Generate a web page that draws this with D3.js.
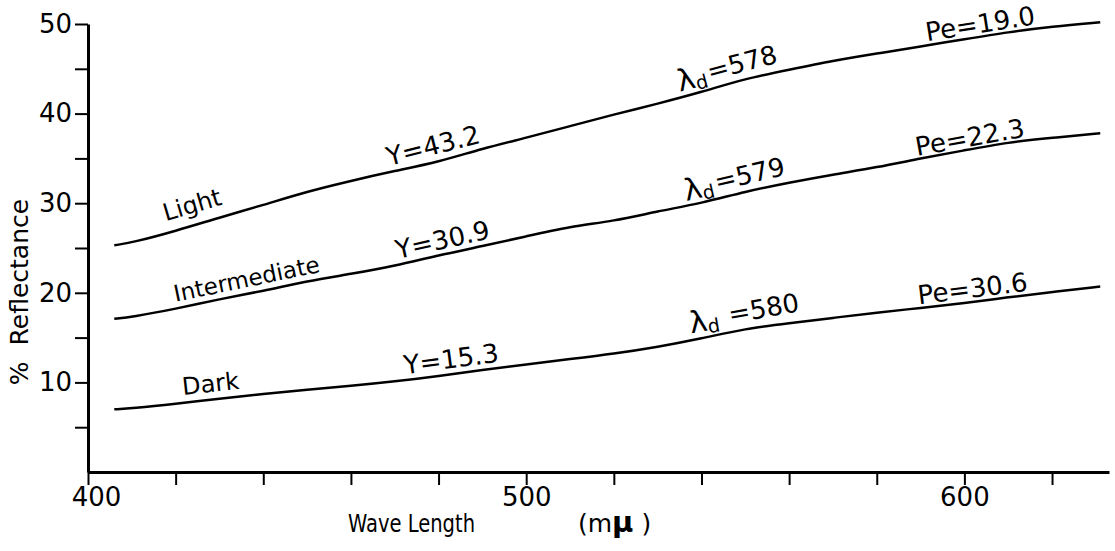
<!DOCTYPE html>
<html>
<head>
<meta charset="utf-8">
<script src="https://cdn.jsdelivr.net/npm/d3@7"></script>
<style>
  body { margin: 0; background: white; }
  text { font-family: "DejaVu Sans", sans-serif; fill: black; white-space: pre; }
</style>
</head>
<body>
<div id="graphique"></div>
<script>
// Valeurs (longueur d'onde en m\u03bc, reflectance en %)
const longueurs_onde = [406, 410, 420, 430, 440, 450, 460, 470, 480, 490, 500, 510,
                        520, 530, 540, 550, 560, 570, 580, 590, 600, 610, 620, 631];
const light        = [25.3, 25.6, 26.9, 28.4, 29.8, 31.3, 32.5, 33.6, 34.6, 36.1, 37.3, 38.6,
                      39.9, 41.1, 42.4, 43.9, 44.9, 45.9, 46.7, 47.5, 48.3, 49.1, 49.7, 50.2];
const intermediate = [17.1, 17.3, 18.2, 19.3, 20.2, 21.3, 22.1, 23.0, 24.2, 25.2, 26.3, 27.4,
                      28.0, 29.1, 30.0, 31.3, 32.3, 33.2, 34.0, 35.0, 35.9, 36.8, 37.3, 37.8];
const dark         = [7.0, 7.1, 7.6, 8.2, 8.7, 9.2, 9.6, 10.1, 10.7, 11.4, 12.0, 12.6,
                      13.2, 13.95, 14.9, 16.0, 16.6, 17.2, 17.8, 18.3, 18.85, 19.5, 20.1, 20.7];

const noms_courbes   = ["Light", "Intermediate", "Dark"];
const etiquettes_Y   = ["Y=43.2", "Y=30.9", "Y=15.3"];
const etiquettes_lambda = ["=578", "=579", " =580"];
const etiquettes_Pe  = ["Pe=19.0", "Pe=22.3", "Pe=30.6"];

const ticks_x  = [400, 420, 440, 460, 480, 500, 520, 540, 560, 580, 600, 620];
const labels_x = [400, 500, 600];
const ticks_y  = [5, 10, 15, 20, 25, 30, 35, 40, 45, 50];
const labels_y = [10, 20, 30, 40, 50];

const titre_x = "Wave Length";
const titre_y = "%  Reflectance";


const svg = d3.select("#graphique").append("svg")
    .attr("width", 1115)
    .attr("height", 551);

svg.append("rect")
    .attr("width", "100%")
    .attr("height", "100%")
    .attr("fill", "white");

const x = d3.scaleLinear().domain([400, 633]).range([88, 1109]);
const y = d3.scaleLinear().domain([0, 50]).range([472, 24]);


// Axe horizontal
const axeX = svg.append("g")
    .attr("transform", "translate(0," + y(0) + ")")
    .call(d3.axisBottom(x)
        .tickValues(ticks_x)
        .tickSize(13)
        .tickSizeOuter(0)
        .tickPadding(3)
        .tickFormat(d => labels_x.includes(d) ? d : ""));

// Axe vertical
const axeY = svg.append("g")
    .attr("transform", "translate(" + x(400) + ",0)")
    .call(d3.axisLeft(y)
        .tickValues(ticks_y)
        .tickSize(13)
        .tickSizeOuter(0)
        .tickPadding(3)
        .tickFormat(d => labels_y.includes(d) ? d : ""));

for (let axe of [axeX, axeY]) {
    axe.attr("font-family", null).attr("font-size", null);
    axe.select(".domain").attr("stroke", "black").attr("stroke-width", 3);
    axe.selectAll(".tick line").attr("stroke", "black").attr("stroke-width", 2);
    axe.selectAll(".tick text").attr("font-size", 26).attr("fill", "black");
}
// le "400" est un peu décalé à droite sur l'original
axeX.selectAll(".tick text").filter(d => d == 400).attr("dx", 8);


// Titres des axes
svg.append("text")
    .attr("x", 348).attr("y", 532)
    .attr("font-size", 25)
    .attr("textLength", 127)
    .attr("lengthAdjust", "spacingAndGlyphs")
    .text(titre_x);

let unite = svg.append("text")
    .attr("x", 578).attr("y", 532)
    .attr("font-size", 25);
unite.append("tspan").text("(m");
unite.append("tspan").attr("font-size", 29).attr("font-weight", "bold").text("\u03bc");
unite.append("tspan").text(" )");

svg.append("text")
    .attr("transform", "translate(28,292) rotate(-90)")
    .attr("text-anchor", "middle")
    .attr("font-size", 25)
    .text(titre_y);


// Courbes (lissées, comme le tracé à la main de l'original)
const ligne = d3.line()
    .x(d => x(d[0]))
    .y(d => y(d[1]))
    .curve(d3.curveBasis);

const series = [light, intermediate, dark];

for (let s of series) {
    svg.append("path")
        .datum(d3.zip(longueurs_onde, s))
        .attr("d", ligne)
        .attr("fill", "none")
        .attr("stroke", "black")
        .attr("stroke-width", 2.5);
}


/* Place une étiquette au dessus d'une courbe, à la longueur d'onde w, tournée selon la pente */
function placerEtiquette(valeurs, w, decalage) {
    let courbe = d3.scaleLinear().domain(longueurs_onde).range(valeurs);
    let px = x(w), py = y(courbe(w));
    let px2 = x(w + 22), py2 = y(courbe(w + 22));
    let angle = Math.atan2(py2 - py, px2 - px) * 180 / Math.PI;
    return svg.append("text")
        .attr("transform", "translate(" + px + "," + py + ") rotate(" + angle + ")")
        .attr("y", -decalage);
}

// positions des étiquettes le long de chaque courbe : [w, decalage]
const pos_noms   = [[418.5, 12], [420.3, 7], [421.9, 8]];
const taille_noms = [24, 23, 24];
const pos_Y      = [[469, 6], [471, 6], [472.5, 6]];
const pos_lambda = [[535.4, 6], [536.8, 5], [537.9, 7]];
const pos_Pe     = [[591.6, 4], [589.3, 3], [589.7, 4]];

for (let i = 0; i < series.length; i++) {
    placerEtiquette(series[i], pos_noms[i][0], pos_noms[i][1])
        .attr("font-size", taille_noms[i])
        .text(noms_courbes[i]);

    placerEtiquette(series[i], pos_Y[i][0], pos_Y[i][1])
        .attr("font-size", 26)
        .text(etiquettes_Y[i]);

    let t = placerEtiquette(series[i], pos_lambda[i][0], pos_lambda[i][1]);
    t.append("tspan").attr("font-size", 30).text("\u03bb");
    t.append("tspan").attr("font-size", 19).attr("dy", 3).text("d");
    t.append("tspan").attr("font-size", 26).attr("dy", -6).attr("dx", 2).text(etiquettes_lambda[i]);

    placerEtiquette(series[i], pos_Pe[i][0], pos_Pe[i][1])
        .attr("font-size", 26)
        .text(etiquettes_Pe[i]);
}
</script>
</body>
</html>
